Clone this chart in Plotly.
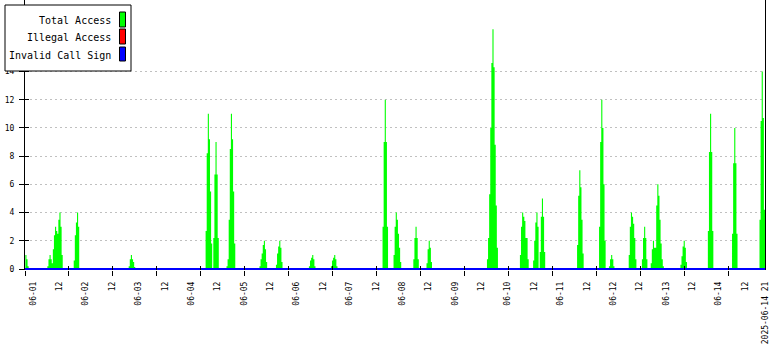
import numpy as np
import pandas as pd
import plotly.graph_objects as go

# ---------------- data ----------------
series_start = "2025-05-31 20:00"
series_end = "2025-06-14 21:00"
step_minutes = 30

# bursts of "Total Access" (30-minute averaged values)
burst_starts = [
    "2025-05-31 20:30", "2025-06-01 06:30", "2025-06-01 18:30", "2025-06-02 19:30",
    "2025-06-04 06:30", "2025-06-04 10:00", "2025-06-04 16:00", "2025-06-05 07:00",
    "2025-06-05 14:30", "2025-06-06 05:30", "2025-06-06 15:30", "2025-06-07 15:00",
    "2025-06-07 20:00", "2025-06-08 05:00", "2025-06-08 11:00", "2025-06-09 14:30",
    "2025-06-10 05:30", "2025-06-10 11:30", "2025-06-10 14:30", "2025-06-11 07:30",
    "2025-06-11 17:30", "2025-06-11 22:00", "2025-06-12 07:00", "2025-06-12 13:00",
    "2025-06-12 17:00", "2025-06-13 06:30", "2025-06-13 19:00", "2025-06-14 06:00",
    "2025-06-14 18:30",
]
burst_values = [
    [1.0, 0.7, 0.2],
    [0.2, 0.7, 1.0, 0.7, 0.4, 1.4, 2.4, 3.0, 2.7, 2.5, 3.5, 4.0, 3.0, 1.0],
    [0.6, 2.4, 3.3, 4.0, 3.0],
    [0.2, 0.7, 1.0, 0.7, 0.5, 0.15],
    [2.7, 8.2, 11.0, 9.2, 5.5, 1.8],
    [2.2, 6.7, 9.0, 6.7, 2.2],
    [0.2, 0.7, 3.5, 8.5, 11.0, 9.2, 5.5, 1.8],
    [0.2, 0.7, 1.1, 1.7, 2.0, 1.4, 0.5],
    [0.3, 1.1, 1.6, 2.0, 1.5, 0.5],
    [0.2, 0.6, 0.8, 1.0, 0.7, 0.2],
    [0.2, 0.6, 0.8, 1.0, 0.7, 0.2],
    [3.0, 9.0, 12.0, 9.0, 3.0],
    [1.0, 3.0, 4.0, 3.5, 2.5, 1.5, 0.5],
    [0.7, 2.2, 3.0, 2.2, 0.7],
    [0.4, 1.4, 2.0, 1.5, 0.5],
    [0.7, 2.2, 5.3, 10.0, 14.6, 17.0, 14.3, 8.8, 4.5, 1.5],
    [1.0, 3.0, 4.0, 3.7, 3.4, 2.2, 2.2, 0.7],
    [0.6, 2.0, 3.3, 4.0, 3.0],
    [1.2, 3.7, 5.0, 3.7, 1.2],
    [1.7, 5.2, 7.0, 5.8, 3.5, 1.1],
    [3.0, 9.0, 12.0, 10.0, 6.0, 2.0],
    [0.2, 0.7, 1.0, 0.7, 0.2],
    [1.0, 3.0, 4.0, 3.7, 3.2, 2.2, 0.7],
    [0.7, 2.2, 3.0, 2.2, 0.7],
    [0.4, 1.4, 2.0, 1.5, 1.5, 4.5, 6.0, 5.2, 3.5, 1.8, 0.7, 0.2],
    [0.3, 0.9, 1.6, 2.0, 1.5, 0.5],
    [2.7, 8.3, 11.0, 8.3, 2.7],
    [2.5, 7.5, 10.0, 7.5, 2.5],
    [3.5, 10.5, 14.0, 10.7, 4.2],
]
illegal_access_value = 0.0
invalid_call_sign_value = 0.0

series_names = ["Total Access", "Illegal Access", "Invalid Call Sign"]
series_colors = ["#00ff00", "#ff0000", "#0000ff"]

y_ticks = [0, 2, 4, 6, 8, 10, 12, 14]
x_label_times = [
    "2025-06-01 00:00", "2025-06-01 12:00", "2025-06-02 00:00", "2025-06-02 12:00",
    "2025-06-03 00:00", "2025-06-03 12:00", "2025-06-04 00:00", "2025-06-04 12:00",
    "2025-06-05 00:00", "2025-06-05 12:00", "2025-06-06 00:00", "2025-06-06 12:00",
    "2025-06-07 00:00", "2025-06-07 12:00", "2025-06-08 00:00", "2025-06-08 12:00",
    "2025-06-09 00:00", "2025-06-09 12:00", "2025-06-10 00:00", "2025-06-10 12:00",
    "2025-06-11 00:00", "2025-06-11 12:00", "2025-06-12 00:00", "2025-06-12 12:00",
    "2025-06-13 00:00", "2025-06-13 12:00", "2025-06-14 00:00", "2025-06-14 12:00",
    "2025-06-14 21:00",
]
x_label_text = [
    "06-01", "12", "06-02", "12", "06-03", "12", "06-04", "12", "06-05", "12",
    "06-06", "12", "06-07", "12", "06-08", "12", "06-09", "12", "06-10", "12",
    "06-11", "12", "06-12", "12", "06-13", "12", "06-14", "12", "2025-06-14 21",
]

# ---------------- build series ----------------
times = pd.date_range(series_start, series_end, freq=f"{step_minutes}min")
total = pd.Series(0.0, index=times)
for start, vals in zip(burst_starts, burst_values):
    idx = pd.date_range(start, periods=len(vals), freq=f"{step_minutes}min")
    total.loc[idx] = vals

# ---------------- layout helpers ----------------
W, H = 780, 350
ML, MR, MT, MB = 25, 15, 0, 80
PW, PH = W - ML - MR, H - MT - MB
def px_x(px):
    return (px - ML) / PW
def px_y(py):
    return (MT + PH - py) / PH

FONT = "DejaVu Sans Mono"
range_start = "2025-05-31 20:20"
range_end = "2025-06-14 21:00"
tick_ms = 20 * 3600 * 1000

fig = go.Figure()
# Illegal Access (all zero) – drawn first, hidden under the blue line
fig.add_trace(go.Scatter(
    x=[times[0], times[-1]], y=[illegal_access_value] * 2, mode="lines",
    line=dict(width=0.5, color=series_colors[1]), name=series_names[1],
    showlegend=False, hoverinfo="skip", xaxis="x", yaxis="y"))
fig.add_trace(go.Scatter(
    x=total.index, y=total.values, mode="lines", line_shape="hv",
    line=dict(width=0, color=series_colors[0]), fill="tozeroy",
    fillcolor=series_colors[0], name=series_names[0], showlegend=False,
    hoverinfo="skip", xaxis="x", yaxis="y"))
# invisible helper so the inner-tick axis is drawn
fig.add_trace(go.Scatter(x=[times[0]], y=[0], mode="markers",
                         marker=dict(opacity=0), showlegend=False,
                         hoverinfo="skip", xaxis="x2", yaxis="y"))
fig.add_trace(go.Scatter(
    x=[times[0], times[-1]], y=[invalid_call_sign_value] * 2, mode="lines",
    line=dict(width=2, color=series_colors[2]), name=series_names[2],
    showlegend=False, hoverinfo="skip", xaxis="x3", yaxis="y2"))

yr = [-0.07, 19.07]
fig.update_layout(
    width=W, height=H,
    margin=dict(l=ML, r=MR, t=MT, b=MB, pad=0),
    paper_bgcolor="white", plot_bgcolor="white",
    font=dict(family=FONT, size=8, color="black"),
    xaxis=dict(type="date", range=[range_start, range_end], tick0=range_start,
               dtick=tick_ms, ticks="outside", ticklen=5, tickwidth=1,
               tickcolor="black", showticklabels=False, showgrid=False,
               zeroline=False, showline=False),
    xaxis2=dict(type="date", overlaying="x", matches="x", anchor="y",
                tick0=range_start, dtick=tick_ms, ticks="inside", ticklen=4,
                tickwidth=1, tickcolor="black", showticklabels=False,
                showgrid=False, zeroline=False, showline=False),
    xaxis3=dict(type="date", overlaying="x", matches="x", anchor="y",
                tickmode="array", tickvals=x_label_times, ticktext=x_label_text,
                tickangle=-90, ticks="", showgrid=False, zeroline=False,
                showline=False, ticklabelstandoff=9,
                tickfont=dict(family=FONT, size=8, color="black")),
    yaxis=dict(range=yr, tickmode="array", tickvals=y_ticks,
               ticks="outside", ticklen=5, tickwidth=1, tickcolor="black",
               showline=True, linecolor="black", linewidth=1, mirror=True,
               showgrid=True, gridcolor="#c0c0c0", gridwidth=1,
               griddash="2px,3px", zeroline=False, ticklabelstandoff=3,
               tickfont=dict(family=FONT, size=8, color="black")),
    yaxis2=dict(range=yr, overlaying="y", matches="y", anchor="x", side="left",
                tickmode="array", tickvals=y_ticks, ticks="inside", ticklen=4,
                tickwidth=1, tickcolor="black", showticklabels=False,
                showgrid=False, zeroline=False, showline=False),
)

# ---------------- custom legend (text left, swatch right) ----------------
shapes = [dict(type="rect", xref="paper", yref="paper",
               x0=px_x(5), x1=px_x(131), y0=px_y(71), y1=px_y(5),
               fillcolor="white", line=dict(color="black", width=1), layer="above")]
annotations = []
rows = [(12, 27), (29, 44), (47, 61)]
for (top, bot), name, color in zip(rows, series_names, series_colors):
    shapes.append(dict(type="rect", xref="paper", yref="paper",
                       x0=px_x(119.5), x1=px_x(125.5), y0=px_y(bot), y1=px_y(top),
                       fillcolor=color, line=dict(color="black", width=1),
                       layer="above"))
    annotations.append(dict(text=name, xref="paper", yref="paper",
                            x=px_x(113), y=px_y((top + bot) / 2 + 1),
                            xanchor="right", yanchor="middle", showarrow=False,
                            font=dict(family=FONT, size=10, color="black")))
fig.update_layout(shapes=shapes, annotations=annotations)

fig.write_html("out.html")
